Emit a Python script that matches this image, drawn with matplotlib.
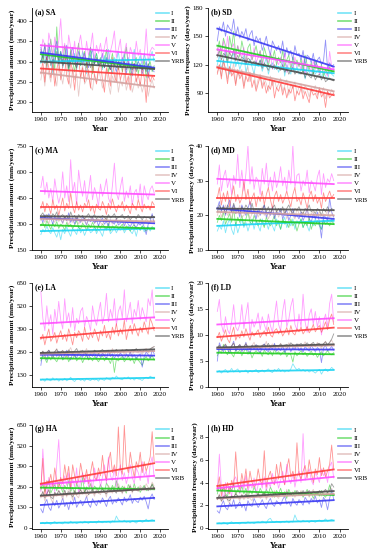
import numpy as np
import matplotlib
matplotlib.use("Agg")
from matplotlib import pyplot as plt

plt.rcParams['font.family'] = ['Liberation Serif', 'DejaVu Serif']

names = ['I', 'II', 'III', 'IV', 'V', 'VI', 'YRB']
colors = ['#1ad3f2', '#22cc22', '#3a3af2', '#d4a2a0', '#ff4dff', '#ff3b3b', '#4d4d4d']
start_year = 1960

# annual series, 1960-2017, order: I, II, III, IV, V, VI, YRB
sa = [
    "295 325 310 285 330 300 270 315 340 290 320 285 300 330 275 310 295 320 280 305 290 325 300 270 310 335 285 300 320 290 305 280 315 295 330 290 270 310 300 325 285 300 320 295 310 280 305 330 290 300 315 285 320 300 275 310 325 300",
    "330 300 345 290 320 355 310 280 385 300 325 295 340 305 280 330 300 275 315 345 290 310 325 285 300 335 270 305 320 295 310 285 300 330 275 295 320 290 305 280 300 275 310 335 290 265 300 285 310 270 295 280 305 260 290 300 275 290",
    "335 310 340 300 345 320 295 330 350 305 325 300 315 340 290 320 335 305 290 325 310 295 320 300 285 315 330 295 305 290 300 320 285 310 295 280 305 290 275 300 285 310 295 270 300 285 265 295 280 300 290 270 285 300 260 290 280 275",
    "255 285 240 295 270 250 300 265 240 290 270 245 280 300 260 235 285 255 270 215 265 290 245 255 280 240 230 270 250 285 260 235 255 280 245 220 265 250 275 225 255 240 270 230 250 265 225 245 260 235 250 225 245 260 215 240 255 235",
    "320 355 340 300 370 345 310 360 330 350 405 320 345 300 365 335 310 350 295 340 365 325 300 350 315 335 370 305 340 320 345 310 335 360 300 325 345 375 310 330 355 300 320 345 290 335 320 300 350 315 330 295 310 380 300 325 335 330",
    "270 300 250 310 285 260 295 240 280 305 255 290 315 265 245 300 275 230 290 310 260 285 250 300 270 235 295 265 245 280 300 255 225 285 270 240 310 265 250 290 255 275 300 245 265 230 280 295 250 270 240 285 260 200 275 250 265 255",
    "300 315 295 310 320 290 305 300 325 295 310 290 300 315 285 300 310 295 285 305 300 310 290 295 305 285 300 295 310 290 295 300 285 305 290 280 300 295 285 300 290 285 300 280 295 285 280 295 275 290 285 280 290 275 295 280 285 280",
]
sd = [
    "120 130 115 125 135 120 110 128 132 118 125 115 122 130 112 120 126 118 110 124 118 125 113 120 128 110 118 122 115 120 112 118 125 108 120 115 110 122 112 118 110 115 120 105 118 112 108 116 110 114 118 106 112 108 104 114 110 108",
    "135 145 130 148 140 125 150 138 155 130 140 128 145 135 122 138 142 125 132 140 128 135 120 138 130 118 132 126 135 120 128 122 135 118 125 130 115 128 120 125 118 126 112 130 120 115 122 110 125 118 112 120 108 115 110 118 112 114",
    "145 160 155 165 150 162 158 155 168 150 160 148 155 150 158 145 152 156 140 150 145 148 135 142 150 138 130 145 140 135 140 132 145 128 138 130 135 125 140 130 132 125 135 120 130 128 122 132 118 125 128 120 124 146 115 122 118 120",
    "112 120 108 125 115 105 118 110 122 100 112 108 115 98 110 118 102 108 112 95 105 110 98 106 100 92 108 98 104 95 100 106 92 98 104 88 100 95 102 90 96 100 90 98 94 86 96 92 98 88 94 90 96 84 92 88 94 90",
    "130 140 135 145 128 150 132 138 142 125 140 132 128 138 120 135 130 125 138 122 128 134 118 130 126 122 132 115 128 124 120 128 118 132 112 125 120 116 128 118 122 115 125 110 120 118 112 124 115 120 110 118 114 112 108 134 118 116",
    "110 120 105 125 115 100 118 108 112 98 115 105 110 95 108 102 112 96 104 92 100 108 95 102 90 98 94 104 85 96 92 100 88 96 85 94 90 98 82 92 88 96 84 92 86 80 94 88 90 84 96 86 90 75 92 85 88 90",
    "128 135 125 132 130 122 133 128 136 124 130 124 128 126 120 127 125 120 124 122 120 125 116 122 118 114 120 116 120 115 118 114 120 112 116 110 114 117 110 113 112 110 114 106 112 108 106 112 104 108 110 104 108 102 104 106 104 103",
]
ma = [
    "240 270 255 290 260 245 280 250 225 265 210 270 245 285 255 230 275 260 240 290 250 270 235 265 280 250 260 285 245 270 255 230 275 265 290 245 260 280 250 275 265 285 250 270 290 260 245 275 230 280 265 290 255 275 285 260 280 270",
    "290 310 280 320 295 270 305 285 315 275 300 290 265 310 285 300 275 295 320 280 270 305 290 265 300 280 310 285 260 295 275 300 285 270 305 260 290 280 295 270 285 300 265 290 275 260 285 295 270 280 265 290 275 260 280 270 285 275",
    "340 310 355 325 360 335 300 345 320 350 330 305 345 320 365 310 335 300 340 325 310 345 320 295 330 315 340 305 325 290 320 335 300 315 290 325 310 300 330 295 305 320 290 315 300 285 310 295 280 305 295 310 285 240 300 315 360 305",
    "320 345 310 335 300 355 325 310 340 315 330 305 350 320 295 335 310 325 345 300 320 310 335 300 325 315 340 305 320 330 310 295 325 340 305 320 300 315 330 305 325 310 300 320 335 305 315 300 325 310 305 320 300 330 315 310 325 320",
    "510 575 470 540 450 505 430 560 480 420 470 600 450 520 430 670 480 540 410 610 520 460 550 430 490 580 440 510 470 400 530 460 500 560 450 420 520 650 480 440 510 570 430 490 450 520 410 480 500 440 530 400 520 470 440 500 520 480",
    "390 430 370 420 400 360 440 385 410 350 400 450 375 420 390 480 400 365 430 380 410 370 420 395 440 375 405 360 415 390 380 430 400 355 420 385 445 400 370 410 395 430 375 410 390 360 420 400 380 440 400 370 415 390 405 380 430 410",
    "350 365 335 355 340 330 360 345 370 325 345 355 335 350 330 370 340 350 325 355 340 350 330 345 360 335 340 355 330 345 335 350 340 325 355 335 345 360 330 340 345 355 330 340 350 325 340 345 330 355 340 325 345 335 340 330 350 340",
]
md = [
    "15.5 17 16 18.5 15 17.5 19 16 14.5 18 15 17 19 16.5 18 15.5 17.5 19 16 18.5 17 15.5 19 17 18 16 18.5 17 15.5 19 17.5 16 18 19.5 16.5 18 17 19 16 18.5 17.5 19 16.5 18 17 15.5 18.5 17 19 17.5 18 16 19 17.5 18.5 18 19 18",
    "18 20 18.5 21 17.5 19 20.5 18 22 17 19.5 18 20 17 19 21 18 17.5 20 18.5 17 19 18 16.5 19.5 18 17 18.5 20 17 18.5 16 19 17.5 18 16.5 19 17 18 15.5 17.5 19 16.5 18 17 19.5 16 18 17 18.5 17 16 18.5 17.5 18 17 18.5 17.5",
    "22 24 21 23 20 22.5 24.5 21 23 20.5 22 19.5 23 21.5 20 22 24 20.5 21 19 22 20 21.5 23 19.5 21 20 22.5 19 21 20.5 22 19 20.5 21.5 18.5 20 22 19.5 20 19 21 18.5 20 22 19 18 20.5 19 21 18 13.5 20 19.5 18.5 25 21 19.5",
    "20 22 19.5 21.5 23 20 21 19 22.5 20.5 21 23 19.5 20 22 21.5 19 20.5 22 21 19.5 21 22.5 20 21 19 20.5 22 20 21.5 19.5 21 20 22 19 20.5 21.5 20 19 22 20.5 19.5 21 20 22 19 20.5 21 19.5 20 21 19 20.5 20 21.5 19.5 20.5 20",
    "29 34.5 27 31 33 28 30.5 26 31.5 29 37.5 28 33 27 32 40 29 34 27.5 31 30 26 33.5 29 35 28 31 27 32.5 28 30 34 28.5 31 27 33 29 40 28 31.5 32 27 30 28.5 33 26.5 30 29 27 31 33 26 32 28 30.5 29.5 32 30",
    "25 28 23 26.5 24 27 22.5 25.5 28.5 24 26 23.5 25 30 24.5 27.5 23 25 26.5 22.5 25.5 24 27 23 26 28 24.5 22 25.5 27 24 26 23.5 25 27 24.5 22.5 26 28 24 25 23 26.5 24.5 22 25.5 27 24 26 23.5 25 22 26.5 24 25.5 27 25 26",
    "21 23 21.5 22.5 20.5 23 22 21 23.5 21.5 22 20.5 22.5 21.5 23 22 21 23.5 21 22 20.5 22 21.5 23 21 22.5 20.5 22 23 21 22 21 22.5 20.5 22 23 21.5 20.5 22 21.5 22.5 21 20.5 22 21.5 23 21 21.5 20.5 22 21.5 20 22 21 22.5 21 22 21.5",
]
la = [
    "100 108 95 112 104 98 115 102 110 96 106 100 112 98 105 118 102 94 108 110 100 106 96 112 104 99 110 102 107 96 112 105 100 116 108 102 118 110 125 112 108 104 116 110 120 106 112 102 114 108 106 100 112 118 110 124 116 112",
    "210 240 225 200 235 215 245 220 205 230 250 215 225 240 205 230 220 245 210 225 235 200 225 245 215 230 210 235 220 205 225 240 210 230 220 195 235 145 220 210 225 235 205 220 240 210 225 195 230 215 200 185 220 235 210 225 240 215",
    "185 260 240 215 270 245 225 255 235 265 250 220 245 270 230 215 255 240 225 260 245 230 265 240 220 250 235 260 225 245 230 255 240 220 265 235 250 225 245 230 255 240 220 250 235 260 230 245 220 240 250 175 235 260 245 225 270 250",
    "240 265 230 255 270 245 225 260 280 235 255 270 240 225 265 285 250 235 260 245 270 240 255 280 235 260 245 270 250 240 265 255 235 270 260 245 280 250 265 240 255 275 245 260 270 250 240 275 260 255 265 245 270 280 255 265 285 290",
    "600 450 380 520 410 470 360 500 420 545 440 390 560 430 480 400 510 380 450 420 490 510 400 460 430 380 520 450 410 480 540 420 470 590 430 500 450 560 410 490 520 450 610 430 480 540 420 500 460 550 440 510 470 430 560 520 610 450",
    "330 360 300 350 390 320 340 370 310 350 380 330 360 320 390 350 300 370 340 380 360 320 400 350 330 370 340 390 360 320 380 350 410 340 370 330 400 360 420 350 390 360 440 330 380 410 360 420 380 350 400 370 430 390 360 450 420 380",
    "250 265 245 258 270 252 245 262 275 250 260 268 248 255 272 258 250 265 280 255 262 270 255 248 266 260 255 270 262 250 265 275 258 262 270 255 268 260 275 258 265 270 260 275 268 258 272 265 280 262 270 260 275 268 262 278 285 290",
]
ld = [
    "2.9 3.2 2.7 3.1 3.4 2.8 3.0 3.6 2.9 3.2 3.5 2.8 3.1 3.0 3.3 2.7 3.2 2.9 3.1 3.4 2.8 3.0 3.3 2.9 3.2 3.5 3.0 2.8 3.4 3.1 3.6 3.0 3.3 2.9 3.2 3.0 3.5 4.5 3.8 3.3 3.6 3.1 3.4 3.0 3.3 2.9 3.2 3.0 2.7 3.1 3.4 2.5 3.2 3.5 3.0 3.3 3.8 3.4",
    "6.0 7.0 6.5 8.2 6.8 6.2 7.5 6.4 5.8 7.2 6.6 7.1 6.0 6.8 7.4 6.3 6.9 5.6 6.5 7.0 6.4 6.8 5.9 7.1 6.5 6.2 6.9 6.0 7.3 6.4 6.8 6.1 6.6 7.0 5.8 6.5 6.2 4.8 6.8 6.0 6.5 7.0 6.2 6.7 5.9 6.4 6.9 6.1 6.6 5.7 6.3 6.8 6.0 6.5 7.0 6.4 6.2 6.6",
    "5.0 8.5 7.5 6.8 8.0 7.2 6.5 7.8 8.8 6.9 7.5 8.2 6.8 7.4 8.6 7.0 6.4 7.9 7.3 8.1 7.0 6.6 7.6 8.3 7.1 6.8 7.7 7.3 8.4 6.9 7.5 7.0 8.0 6.6 7.4 7.9 6.8 7.6 7.2 8.2 7.0 7.5 6.7 7.8 7.3 6.9 8.0 7.4 6.8 7.6 7.2 4.7 7.5 8.0 7.0 7.3 7.8 7.1",
    "7.2 8.0 7.0 7.8 8.3 7.4 6.9 7.9 8.5 7.1 7.7 8.2 7.0 7.5 8.4 7.8 7.2 8.0 8.6 7.3 7.9 7.4 8.1 7.6 8.8 7.2 7.8 8.3 7.5 8.0 7.6 8.4 7.7 8.1 7.3 8.5 7.9 8.2 7.4 8.0 8.3 7.6 8.0 8.7 7.8 7.5 8.4 8.1 7.7 8.6 8.0 7.4 8.3 8.8 7.9 8.5 9.0 8.2",
    "14.5 16.8 12.0 10.5 13.5 11.0 10.2 12.5 15.8 11.5 10.8 12.0 15.8 11.2 13.8 16.2 10.0 13.0 11.5 12.5 14.2 11.0 13.5 12.0 10.8 14.0 11.8 10.5 13.5 16.5 12.0 10.8 14.5 16.8 11.5 13.0 15.5 17.0 12.0 11.0 14.0 11.5 17.8 12.5 10.5 13.8 15.0 12.0 14.5 11.5 13.5 10.0 12.5 14.0 11.5 16.0 17.8 12.5",
    "9.5 10.5 8.8 9.8 11.0 9.2 8.5 10.2 11.5 9.0 10.0 9.4 10.8 9.6 11.2 10.0 9.0 10.6 9.8 10.4 11.0 9.5 10.2 10.8 9.8 11.5 10.0 9.6 10.8 11.2 10.2 11.0 9.8 10.5 11.4 10.0 11.8 10.4 10.0 11.2 10.6 11.5 10.2 10.8 11.6 10.4 11.0 12.0 10.6 11.3 11.8 10.5 11.4 12.5 11.0 13.0 14.0 12.0",
    "7.6 8.0 7.3 7.8 8.2 7.5 7.2 7.9 8.4 7.4 7.8 8.1 7.5 7.7 8.3 7.6 7.3 8.0 7.8 8.1 7.9 7.4 8.0 8.2 7.7 8.4 7.6 7.8 8.1 7.9 7.8 8.3 7.7 8.0 8.2 7.8 8.5 8.1 7.9 8.3 8.0 8.4 7.9 8.1 8.5 8.0 8.2 8.6 7.9 8.3 8.4 7.8 8.3 8.7 8.1 8.6 9.2 10.2",
]
ha = [
    "28 35 25 38 30 22 33 40 27 35 30 25 38 32 28 42 30 35 27 33 38 30 42 35 28 40 33 36 30 45 38 32 40 35 42 30 45 38 75 50 42 38 48 35 40 32 45 38 30 42 48 35 42 55 40 48 52 45",
    "240 280 230 265 300 220 250 275 235 290 260 225 270 245 300 230 255 215 280 250 240 320 225 260 245 280 230 265 250 235 275 245 225 285 260 235 270 240 300 255 230 265 245 220 275 250 235 280 240 260 225 250 270 235 255 240 280 245",
    "120 95 155 180 130 110 165 140 175 125 150 190 135 160 115 170 145 195 130 155 175 140 165 200 150 130 185 160 140 175 155 190 165 135 180 200 150 175 160 190 170 145 195 165 180 210 155 185 170 160 195 175 200 165 120 190 215 180",
    "190 230 170 215 250 185 160 225 200 240 210 180 235 195 255 220 175 240 205 190 245 220 260 195 215 280 230 200 250 225 210 255 235 195 270 240 220 260 230 280 245 215 265 235 250 275 220 260 245 230 270 250 235 280 255 240 290 265",
    "230 500 280 200 320 250 290 230 400 560 300 240 330 270 350 240 310 260 380 220 300 350 280 330 260 310 240 380 300 350 260 320 400 280 450 330 300 380 260 340 400 300 350 280 330 400 320 280 380 350 300 420 330 360 280 400 450 320",
    "250 440 200 300 280 340 260 380 300 250 320 280 400 310 390 250 400 330 280 300 410 340 300 370 280 350 420 320 300 380 330 460 350 300 420 480 350 400 330 640 380 340 650 400 350 480 390 320 420 380 480 350 420 360 400 450 610 420",
    "200 230 190 215 240 195 185 225 210 235 215 200 240 205 230 220 195 235 210 225 240 215 230 250 210 225 245 215 235 220 230 250 225 215 245 230 255 235 220 260 240 225 255 235 245 265 230 250 240 235 255 240 260 250 235 255 275 250",
]
hd = [
    "0.40 0.45 0.35 0.50 0.42 0.30 0.45 0.55 0.38 0.48 0.42 0.35 0.50 0.45 0.40 0.55 0.42 0.48 0.38 0.50 0.55 0.45 0.60 0.50 0.42 0.75 0.85 0.55 0.48 0.60 0.52 0.45 0.58 0.50 0.62 0.45 0.58 0.52 1.15 0.70 0.60 0.52 0.68 0.55 0.62 0.48 0.65 0.58 0.50 0.62 0.70 0.55 0.62 0.80 0.58 0.68 0.75 0.65",
    "3.0 3.8 3.2 3.5 3.0 2.8 3.6 3.3 3.9 2.9 3.4 3.1 3.7 3.0 3.5 2.7 3.3 3.0 3.6 3.2 2.9 3.5 3.1 2.8 3.4 3.0 3.6 3.2 2.7 3.3 3.0 3.5 2.9 3.2 2.6 3.4 3.0 2.8 3.3 3.1 2.9 3.2 2.7 3.0 3.4 2.8 3.1 2.6 3.0 3.2 2.8 3.3 2.9 2.7 3.1 3.8 3.0 2.9",
    "1.5 1.3 2.0 2.4 1.8 1.6 2.2 1.9 2.5 1.7 2.0 2.3 1.8 2.1 1.5 2.4 2.0 1.9 2.6 2.2 1.8 2.1 2.5 2.0 1.7 2.3 2.6 2.1 1.9 2.4 2.2 2.0 2.5 2.8 2.1 2.3 1.9 2.6 2.2 2.0 2.5 2.3 2.0 2.7 2.4 2.1 2.6 2.3 2.8 2.2 2.5 1.8 2.7 2.4 1.6 2.6 3.4 2.5",
    "2.5 3.0 2.3 2.7 3.1 2.4 2.2 2.9 2.6 3.2 2.7 2.4 3.0 2.5 2.8 3.3 2.6 2.4 2.9 2.7 3.1 2.6 2.8 3.2 2.5 2.9 3.0 2.7 3.3 2.8 2.6 3.1 2.9 2.7 3.4 2.8 3.0 3.2 2.7 3.1 2.9 3.3 2.8 3.0 3.2 2.7 3.1 3.4 2.9 3.0 3.2 2.8 3.1 3.3 2.9 3.2 3.5 3.0",
    "3.2 6.5 3.5 2.5 4.0 3.0 3.6 2.8 4.2 4.5 3.8 3.0 4.2 3.4 4.6 3.2 3.9 3.5 4.4 3.0 3.8 4.3 3.5 4.5 3.3 4.0 3.6 4.8 3.9 4.4 3.5 4.2 5.0 3.8 5.6 4.3 3.9 4.8 3.6 4.5 5.0 4.0 8.3 4.2 4.7 5.2 4.2 3.8 4.9 4.5 4.0 5.2 4.6 4.9 4.0 5.4 5.8 4.4",
    "3.5 4.5 2.8 3.8 3.2 4.0 3.0 4.2 3.6 6.7 4.0 3.4 4.8 3.8 5.2 3.5 5.0 4.0 3.6 3.9 5.2 4.2 3.8 6.8 3.6 4.5 5.0 4.0 3.8 5.6 4.3 5.8 4.4 3.8 5.2 6.1 4.5 5.0 4.2 7.5 4.8 4.3 5.0 5.5 4.4 6.0 4.9 4.0 5.2 4.7 6.2 4.6 5.3 4.5 5.0 5.6 7.3 5.2",
    "2.5 2.9 2.4 2.7 2.9 2.5 2.4 2.8 2.7 3.0 2.8 2.6 2.9 2.7 3.0 2.6 2.8 2.9 2.7 2.8 3.0 2.8 2.9 3.1 2.7 2.9 3.0 2.8 3.1 2.9 2.8 3.1 3.0 2.9 3.2 3.0 2.9 3.1 3.0 3.3 3.1 2.9 3.3 3.0 3.1 3.3 3.0 3.2 3.1 3.0 3.3 3.1 3.2 3.4 3.1 3.3 3.9 3.6",
]

# linear trend values at 1960 and 2017
trend_years = [1960, 2017]
sa_trend = [(300, 305), (318, 283), (322, 285), (273, 238), (340, 316), (283, 265), (300, 282)]
sd_trend = [(124, 111), (140, 113), (158, 118), (118, 92), (136, 115), (117, 88), (130, 104)]
ma_trend = [(260, 275), (295, 275), (335, 305), (330, 315), (490, 470), (400, 400), (345, 340)]
md_trend = [(17, 18.5), (19, 17.5), (22, 19), (21, 20), (30.5, 29), (25, 25), (22, 21.5)]
la_trend = [(105, 115), (225, 218), (245, 240), (250, 265), (420, 455), (340, 395), (255, 275)]
ld_trend = [(3.0, 3.3), (6.6, 6.3), (7.3, 7.2), (7.5, 8.0), (12.0, 13.2), (9.6, 11.4), (7.6, 8.2)]
ha_trend = [(30, 45), (255, 245), (145, 190), (200, 250), (275, 330), (280, 410), (205, 250)]
hd_trend = [(0.4, 0.65), (3.3, 2.9), (1.9, 2.45), (2.6, 3.0), (3.5, 4.5), (3.7, 5.15), (2.65, 3.25)]

panels = [
    ('(a) SA', sa, sa_trend, (176, 432), [200, 250, 300, 350, 400]),
    ('(b) SD', sd, sd_trend, (70, 180), [90, 120, 150, 180]),
    ('(c) MA', ma, ma_trend, (150, 750), [150, 300, 450, 600, 750]),
    ('(d) MD', md, md_trend, (10, 40), [10, 20, 30, 40]),
    ('(e) LA', la, la_trend, (62, 650), [130, 260, 390, 520, 650]),
    ('(f) LD', ld, ld_trend, (0, 20), [0, 5, 10, 15, 20]),
    ('(g) HA', ha, ha_trend, (-8, 655), [0, 130, 260, 390, 520, 650]),
    ('(h) HD', hd, hd_trend, (-0.1, 9.1), [0, 2, 4, 6, 8]),
]

fig = plt.figure(figsize=(3.71, 5.50), dpi=100)
row_bottoms = [0.796, 0.545, 0.296, 0.038]
row_h = 0.19

for k, (title, data, trend, ylim, yticks) in enumerate(panels):
    row, col = divmod(k, 2)
    if col == 0:
        ax = fig.add_axes([0.086, row_bottoms[row], 0.367, row_h])
        ylabel = 'Precipitation amount (mm/year)'
        leg_x = 0.90
    else:
        ax = fig.add_axes([0.561, row_bottoms[row], 0.377, row_h])
        ylabel = 'Precipitation frequency (days/year)'
        leg_x = 0.92

    for i, s in enumerate(data):
        vals = np.array(s.split(), dtype=float)
        yrs = np.arange(start_year, start_year + len(vals))
        ax.plot(yrs, vals, color=colors[i], lw=0.6, alpha=0.55, label=names[i])
    for i, t in enumerate(trend):
        ax.plot(trend_years, t, color=colors[i], lw=1.3, alpha=0.9)

    ax.set_xlim(1955.5, 2024)
    ax.set_ylim(*ylim)
    ax.set_xticks([1960, 1970, 1980, 1990, 2000, 2010, 2020])
    ax.set_yticks(yticks)
    ax.spines['top'].set_visible(False)
    ax.spines['right'].set_visible(False)
    ax.spines['left'].set_linewidth(0.6)
    ax.spines['bottom'].set_linewidth(0.6)
    ax.tick_params(labelsize=5, length=2, width=0.5, pad=1.5)
    ax.set_xlabel('Year', fontsize=6, fontweight='bold', labelpad=2)
    ax.set_ylabel(ylabel, fontsize=5.2, fontweight='bold', labelpad=1)
    ax.text(0.02, 1.0, title, transform=ax.transAxes, fontsize=5.5,
            fontweight='bold', va='top', ha='left')

    leg = ax.legend(loc='upper left', bbox_to_anchor=(leg_x, 0.99), frameon=False,
                    fontsize=5, handlelength=1.9, handletextpad=0.3,
                    labelspacing=0.32, borderaxespad=0, borderpad=0.2)
    for h in leg.get_lines():
        h.set_linewidth(1.2)
        h.set_alpha(0.6)

plt.savefig('out.png', dpi=100)
plt.close()
